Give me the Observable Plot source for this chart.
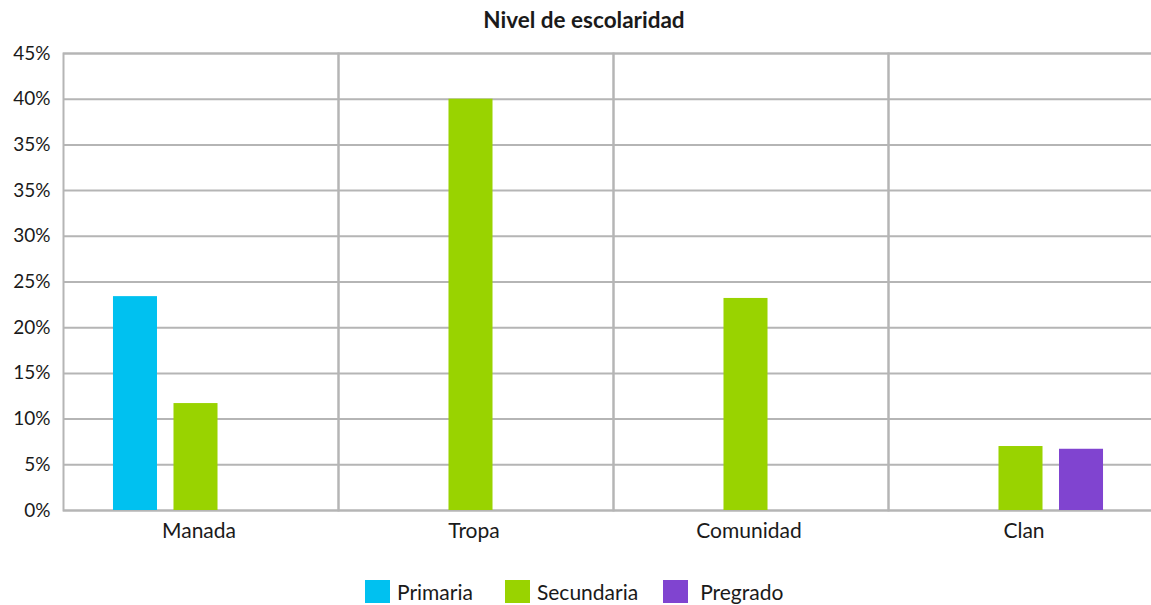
<!DOCTYPE html>
<html>
<head>
<meta charset="utf-8">
<script src="https://cdn.jsdelivr.net/npm/d3@7"></script>
<script src="https://cdn.jsdelivr.net/npm/@observablehq/plot@0.6"></script>
<style>
  html, body { margin: 0; padding: 0; background: #fff; overflow: hidden; width: 1151px; height: 605px; }
  body { font-family: Lato, "Open Sans", sans-serif; color: #1a1a1a; position: relative; }
  #title { position: absolute; top: 0; left: 384px; width: 400px; height: 40px; line-height: 40px; text-align: center; font-weight: bold; font-size: 22.5px; }
  #chart { position: absolute; top: 40px; left: 0; width: 1170px; }
  #chart svg { max-width: none !important; }
  #legend { position: absolute; top: 580px; left: 365px; height: 23px; display: flex; align-items: center; font-size: 21px; white-space: nowrap; }
  .item { display: flex; align-items: center; }
  .sw { width: 25px; height: 23px; }
</style>
</head>
<body>
<div id="title">Nivel de escolaridad</div>
<div id="chart"></div>
<div id="legend"></div>
<script>
const categories = ["Manada", "Tropa", "Comunidad", "Clan"];
const series = ["Primaria", "Secundaria", "Pregrado"];
const colors = ["#00c1f0", "#99d300", "#8044d0"];
const primaria = [23.4, 0, 0, 0];
const secundaria = [11.7, 45.0, 23.2, 7.0];
const pregrado = [0, 0, 0, 6.7];
const yTicks = [0, 5, 10, 15, 20, 25, 30, 35, 40, 45, 50];
const yTickLabels = ["0%", "5%", "10%", "15%", "20%", "25%", "30%", "35%", "35%", "40%", "45%"];

const valuesBySeries = [primaria, secundaria, pregrado];
const data = [];
categories.forEach((c, i) => {
  series.forEach((s, j) => {
    const v = valuesBySeries[j][i];
    if (v > 0) data.push({category: c, series: s, value: v});
  });
});

const ML = 61;
const chart = Plot.plot({
  width: 1170,
  height: 520,
  marginTop: 13,
  marginBottom: 50,
  marginLeft: ML,
  marginRight: 6,
  style: {fontFamily: "Lato, 'Open Sans', sans-serif", fontSize: "19px", color: "#1a1a1a", background: "transparent"},
  fx: {domain: categories, padding: 0, label: null},
  x: {domain: series, range: [ML + 41.75, ML + 223.25], paddingInner: 0.2727, paddingOuter: 0.136, round: false, axis: null},
  y: {domain: [0, 50], axis: null, label: null},
  color: {domain: series, range: colors},
  marks: [
    Plot.gridY(yTicks, {stroke: "#b5b5b5", strokeOpacity: 1, strokeWidth: 2}),
    Plot.frame({stroke: "#b5b5b5", strokeWidth: 2}),
    Plot.barY(data, {fx: "category", x: "series", y: "value", fill: "series"}),
    Plot.axisY(yTicks, {label: null, tickSize: 0, tickPadding: 13, fontSize: 19, tickFormat: (d) => yTickLabels[yTicks.indexOf(d)]}),
    Plot.axisFx({anchor: "bottom", label: null, tickSize: 0, tickPadding: 13, fontSize: 21, dx: -2})
  ]
});
document.getElementById("chart").appendChild(chart);

const legend = document.getElementById("legend");
const itemGap = [32, 25, 0];
const textGap = [7, 7, 12];
series.forEach((s, i) => {
  const item = document.createElement("div");
  item.className = "item";
  item.style.marginRight = itemGap[i] + "px";
  const sw = document.createElement("div");
  sw.className = "sw";
  sw.style.background = colors[i];
  sw.style.marginRight = textGap[i] + "px";
  const t = document.createElement("span");
  t.textContent = s;
  item.appendChild(sw);
  item.appendChild(t);
  legend.appendChild(item);
});
</script>
</body>
</html>
